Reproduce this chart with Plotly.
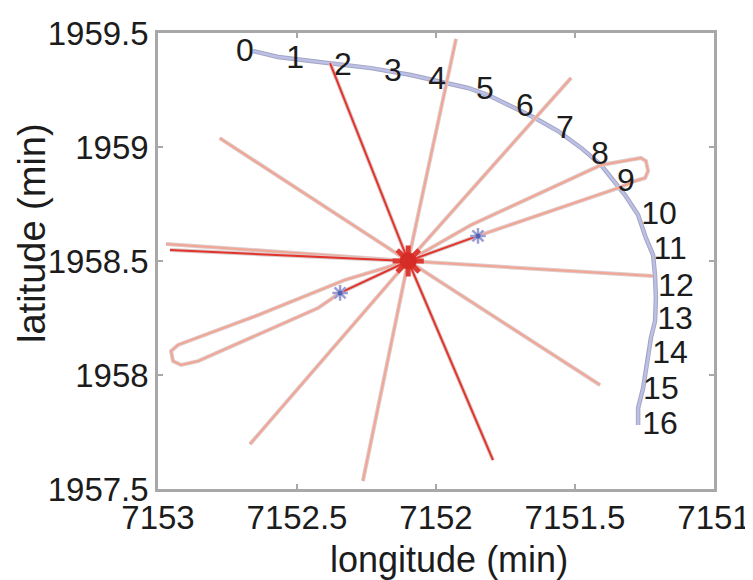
import plotly.graph_objects as go

# ---------------- data ----------------
center_lon = 7152.10
center_lat = 1958.50

track_lon = [7152.658, 7152.568, 7152.450, 7152.363, 7152.234, 7152.090, 7151.957, 7151.885,
             7151.813, 7151.741, 7151.644, 7151.561, 7151.478, 7151.406, 7151.320, 7151.273,
             7151.245, 7151.219, 7151.212, 7151.209, 7151.212, 7151.227, 7151.237, 7151.255,
             7151.273, 7151.273]
track_lat = [1959.421, 1959.395, 1959.377, 1959.364, 1959.346, 1959.316, 1959.281, 1959.259,
             1959.228, 1959.184, 1959.127, 1959.070, 1958.996, 1958.921, 1958.789, 1958.702,
             1958.601, 1958.526, 1958.434, 1958.338, 1958.237, 1958.162, 1958.075, 1957.943,
             1957.855, 1957.781]

label_text = ["0", "1", "2", "3", "4", "5", "6", "7", "8", "9", "10", "11", "12", "13", "14", "15", "16"]
label_lon = [7152.687, 7152.507, 7152.335, 7152.155, 7151.996, 7151.824, 7151.680, 7151.536,
             7151.410, 7151.317, 7151.198, 7151.158, 7151.137, 7151.140, 7151.158, 7151.191, 7151.194]
label_lat = [1959.412, 1959.382, 1959.351, 1959.325, 1959.289, 1959.246, 1959.171, 1959.075,
             1958.961, 1958.842, 1958.697, 1958.544, 1958.382, 1958.237, 1958.088, 1957.930, 1957.776]

# straight rays from the centre: end points
ray_end_lon = [7152.778, 7152.381, 7151.928, 7151.514, 7152.971, 7152.957, 7151.219,
               7152.669, 7152.263, 7151.795, 7151.410]
ray_end_lat = [1959.039, 1959.368, 1959.474, 1959.303, 1958.575, 1958.548, 1958.434,
               1957.697, 1957.535, 1957.627, 1957.956]

# looping excursions (start at centre, end at a marked point)
loop_e_lon = [7151.874, 7151.406, 7151.263, 7151.245, 7151.237, 7151.248, 7151.284, 7151.345, 7151.849]
loop_e_lat = [1958.658, 1958.921, 1958.952, 1958.939, 1958.895, 1958.864, 1958.851, 1958.820, 1958.610]
loop_w_lon = [7152.327, 7152.640, 7152.928, 7152.953, 7152.946, 7152.917, 7152.856, 7152.424, 7152.345]
loop_w_lat = [1958.417, 1958.263, 1958.132, 1958.105, 1958.061, 1958.044, 1958.061, 1958.294, 1958.360]

star_lon = [7151.849, 7152.345]
star_lat = [1958.610, 1958.360]

x_ticks = [7153, 7152.5, 7152, 7151.5, 7151]
x_tick_text = ["7153", "7152.5", "7152", "7151.5", "7151"]
y_ticks = [1957.5, 1958, 1958.5, 1959, 1959.5]
y_tick_text = ["1957.5", "1958", "1958.5", "1959", "1959.5"]

# ---------------- styles ----------------
PINK = "#f3a594"
RED = "#e2342d"
EDGE = "#dccaca"
FONT = "Liberation Sans, Arial"
TXT = "#1c1c1c"
ray_is_red = [False, True, False, False, False, True, False, False, False, True, False]

fig = go.Figure()


def add_line(xs, ys, color, width=2, edge=EDGE):
    fig.add_trace(go.Scatter(x=xs, y=ys, mode="lines", line=dict(color=edge, width=width + 2),
                             hoverinfo="skip", showlegend=False))
    fig.add_trace(go.Scatter(x=xs, y=ys, mode="lines", line=dict(color=color, width=width),
                             hoverinfo="skip", showlegend=False))


# track
add_line(track_lon, track_lat, "#bcc0e6", width=2.5, edge="#a4a6c0")

# loops
add_line([center_lon] + loop_e_lon, [center_lat] + loop_e_lat, PINK)
add_line([center_lon] + loop_w_lon, [center_lat] + loop_w_lat, PINK)
for sx, sy in zip(star_lon, star_lat):
    add_line([center_lon, sx], [center_lat, sy], RED)

# straight rays
for ex, ey, red in zip(ray_end_lon, ray_end_lat, ray_is_red):
    add_line([center_lon, ex], [center_lat, ey], RED if red else PINK)

# centre burst
fig.add_trace(go.Scatter(x=[center_lon], y=[center_lat], mode="markers",
                         marker=dict(symbol="asterisk", size=26, color="#dc3a32",
                                     line=dict(color="#dc3a32", width=5)),
                         hoverinfo="skip", showlegend=False))
fig.add_trace(go.Scatter(x=[center_lon], y=[center_lat], mode="markers",
                         marker=dict(symbol="circle", size=17, color="#d62c26"),
                         hoverinfo="skip", showlegend=False))

# marked points
fig.add_trace(go.Scatter(x=star_lon, y=star_lat, mode="markers",
                         marker=dict(symbol="asterisk", size=13, color="#9a9ed4",
                                     line=dict(color="#9a9ed4", width=2.5)),
                         hoverinfo="skip", showlegend=False))
fig.add_trace(go.Scatter(x=star_lon, y=star_lat, mode="markers",
                         marker=dict(symbol="circle", size=5, color="#5860b0"),
                         hoverinfo="skip", showlegend=False))

# labels
fig.add_trace(go.Scatter(x=label_lon, y=label_lat, mode="text", text=label_text,
                         textposition="middle center",
                         textfont=dict(family=FONT, size=32, color=TXT),
                         hoverinfo="skip", showlegend=False))

axis_common = dict(showgrid=False, zeroline=False, showline=True, linecolor="#a8a8a8", linewidth=2.5,
                   mirror="allticks", ticks="inside", ticklen=5, tickcolor="#a8a8a8", tickwidth=1.5,
                   automargin=False,
                   tickfont=dict(family=FONT, size=33, color=TXT))

fig.update_layout(
    width=753, height=580,
    margin=dict(l=150, r=47, t=25, b=99),
    paper_bgcolor="white", plot_bgcolor="white",
    xaxis=dict(range=[7153, 7151], tickvals=x_ticks, ticktext=x_tick_text, ticklabelstandoff=-2,
               **axis_common),
    yaxis=dict(range=[1957.5, 1959.5], tickvals=y_ticks, ticktext=y_tick_text, **axis_common),
    annotations=[
        dict(text="longitude (min)", xref="paper", yref="paper", x=0.5, y=0,
             xanchor="center", yanchor="middle", xshift=13, yshift=-70, showarrow=False,
             font=dict(family=FONT, size=36, color=TXT)),
        dict(text="latitude (min)", xref="paper", yref="paper", x=0, y=0.5, textangle=-90,
             xanchor="center", yanchor="middle", xshift=-126, yshift=28, showarrow=False,
             font=dict(family=FONT, size=38, color=TXT)),
    ],
)

fig.write_html("out.html")
